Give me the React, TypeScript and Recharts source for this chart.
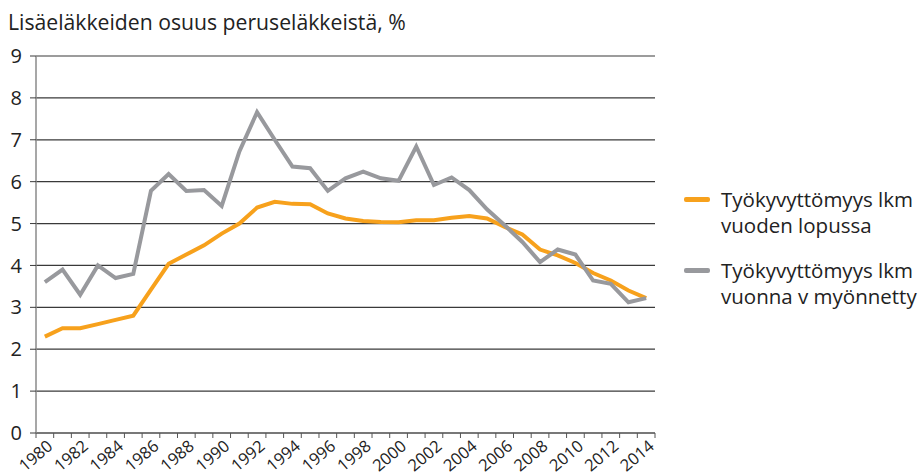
import { LineChart, Line, XAxis, YAxis, CartesianGrid } from "recharts";

const years = [
    "1980", "1981", "1982", "1983", "1984", "1985", "1986", "1987", "1988", "1989",
    "1990", "1991", "1992", "1993", "1994", "1995", "1996", "1997", "1998", "1999",
    "2000", "2001", "2002", "2003", "2004", "2005", "2006", "2007", "2008", "2009",
    "2010", "2011", "2012", "2013", "2014",
];

// Työkyvyttömyys lkm vuoden lopussa
const endOfYear = [
    2.3, 2.5, 2.5, 2.6, 2.7, 2.8, 3.42, 4.04, 4.26, 4.48,
    4.76, 5.0, 5.38, 5.52, 5.47, 5.46, 5.24, 5.12, 5.06, 5.04,
    5.03, 5.08, 5.08, 5.14, 5.18, 5.12, 4.92, 4.74, 4.38, 4.24,
    4.06, 3.82, 3.64, 3.4, 3.22,
];

// Työkyvyttömyys lkm vuonna v myönnetty
const granted = [
    3.6, 3.9, 3.3, 4.0, 3.7, 3.8, 5.78, 6.18, 5.78, 5.8,
    5.42, 6.72, 7.66, 7.0, 6.36, 6.32, 5.78, 6.08, 6.24, 6.08,
    6.02, 6.84, 5.92, 6.1, 5.8, 5.34, 4.96, 4.56, 4.08, 4.38,
    4.26, 3.64, 3.56, 3.12, 3.22,
];

const yTicks = [0, 1, 2, 3, 4, 5, 6, 7, 8, 9];

const data = years.map((year, i) => ({
    year,
    endOfYear: endOfYear[i],
    granted: granted[i],
}));

const ORANGE = "#f7a11c";
const GRAY = "#98999d";
const FONT = '"Open Sans", sans-serif';

const W = 919;
const H = 475;
const PLOT_LEFT = 36;
const PLOT_RIGHT = 655;
const PLOT_TOP = 56;
const PLOT_BOTTOM = 433;
const halfBand = (PLOT_RIGHT - PLOT_LEFT) / years.length / 2;

const YearTick = (props: any) => {
    const { x, y, payload, index } = props;
    const even = Number(payload.value) % 2 === 0;
    const tx = x + 9;
    const ty = y + 15;
    return (
        <g>
            <line x1={x - halfBand} y1={y} x2={x - halfBand} y2={y + 5} stroke="#555" />
            {index === years.length - 1 && (
                <line x1={x + halfBand} y1={y} x2={x + halfBand} y2={y + 5} stroke="#555" />
            )}
            {even && (
                <text
                    x={tx}
                    y={ty}
                    textAnchor="end"
                    transform={`rotate(-40 ${tx} ${ty})`}
                    fontSize={16.5}
                    fill="#222"
                    fontFamily={FONT}
                >
                    {payload.value}
                </text>
            )}
        </g>
    );
};

const legendItems = [
    { color: ORANGE, lines: ["Työkyvyttömyys lkm", "vuoden lopussa"] },
    { color: GRAY, lines: ["Työkyvyttömyys lkm", "vuonna v myönnetty"] },
];

const ChartLegend = () => (
    <div
        style={{
            position: "absolute",
            left: 684,
            top: 186,
            fontFamily: FONT,
            fontSize: 20.5,
            color: "#222",
            lineHeight: "26px",
        }}
    >
        {legendItems.map((item, i) => (
            <div key={i} style={{ display: "flex", alignItems: "flex-start", marginBottom: i === 0 ? 19 : 0 }}>
                <div
                    style={{
                        width: 26,
                        height: 5,
                        borderRadius: 2,
                        background: item.color,
                        marginTop: 11,
                        marginRight: 11,
                    }}
                />
                <div style={{ whiteSpace: "nowrap" }}>
                    {item.lines.map((l) => (
                        <div key={l}>{l}</div>
                    ))}
                </div>
            </div>
        ))}
    </div>
);

const App = () => {
    return (
        <div style={{ position: "absolute", left: 0, top: 0, width: W, height: H, background: "#fff", fontFamily: FONT }}>
            <div style={{ position: "absolute", left: 8, top: 7, fontSize: 21.2, color: "#222", whiteSpace: "nowrap" }}>
                Lisäeläkkeiden osuus peruseläkkeistä, %
            </div>
            <LineChart
                width={W}
                height={H}
                data={data}
                margin={{ top: PLOT_TOP, right: W - PLOT_RIGHT, left: 6, bottom: 0 }}
                style={{ overflow: "visible" }}
            >
                <CartesianGrid vertical={false} stroke="#3a3a3a" strokeWidth={1.2} />
                <XAxis
                    dataKey="year"
                    interval={0}
                    height={H - PLOT_BOTTOM}
                    padding={{ left: halfBand, right: halfBand }}
                    tickLine={false}
                    tickSize={0}
                    tickMargin={0}
                    axisLine={{ stroke: "#555", strokeWidth: 1.2 }}
                    tick={<YearTick />}
                />
                <YAxis
                    domain={[0, 9]}
                    ticks={yTicks}
                    width={PLOT_LEFT - 6}
                    tickSize={6}
                    tickMargin={8}
                    tickLine={{ stroke: "#3a3a3a" }}
                    axisLine={{ stroke: "#8a8a8a", strokeWidth: 1.5 }}
                    tick={{ fontSize: 20, fill: "#222", fontFamily: FONT }}
                />
                <YAxis
                    yAxisId="frame"
                    orientation="right"
                    domain={[0, 9]}
                    width={0}
                    tick={false}
                    tickLine={false}
                    axisLine={{ stroke: "#555", strokeWidth: 1.2 }}
                />
                <Line
                    type="linear"
                    dataKey="endOfYear"
                    stroke={ORANGE}
                    strokeWidth={4}
                    dot={false}
                    isAnimationActive={false}
                />
                <Line
                    type="linear"
                    dataKey="granted"
                    stroke={GRAY}
                    strokeWidth={4}
                    dot={false}
                    isAnimationActive={false}
                />
            </LineChart>
            <ChartLegend />
        </div>
    );
};

export default App;
